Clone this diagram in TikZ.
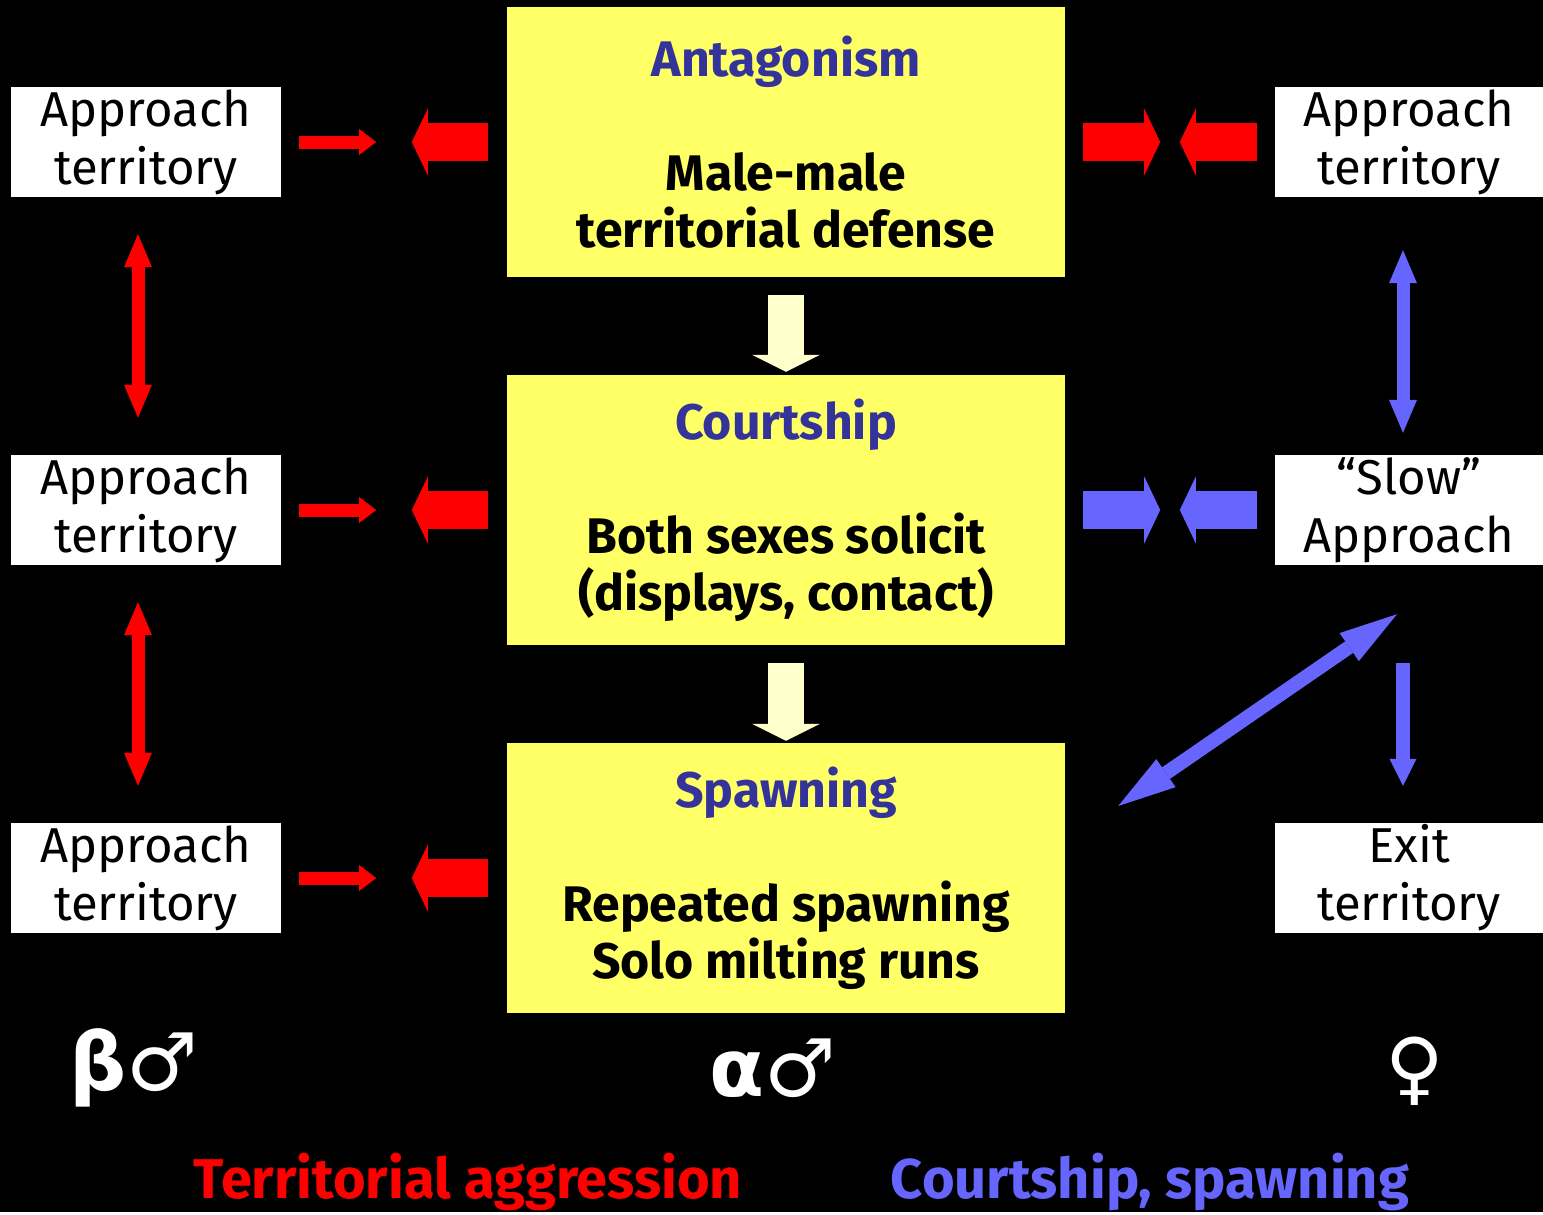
\documentclass[tikz,border=0pt]{standalone}
\usepackage{fontspec}
\setmainfont{Fira Sans}
\newfontfamily\symfont{DejaVu Sans}
\usetikzlibrary{arrows.meta,positioning}
\definecolor{boxyellow}{HTML}{FFFF66}
\definecolor{titleblue}{HTML}{333399}
\definecolor{arrblue}{HTML}{6666FF}
\definecolor{cream}{HTML}{FFFFCC}

\begin{document}
\begin{tikzpicture}[
x=1pt, y=-1pt,
wbox/.style={
	fill=white, text=black, inner sep=0pt,
	minimum width=270pt, minimum height=110pt,
	align=center, font=\fontsize{49}{58}\selectfont
},
ybox/.style={
	fill=boxyellow, text=black, inner sep=0pt,
	minimum width=558pt, minimum height=270pt,
	align=center, font=\bfseries\fontsize{50}{57}\selectfont
},
slim/.style={line width=13pt, -{Triangle[width=26pt,length=17pt,line width=0pt]}},
fat/.style={line width=38pt, -{Triangle[width=67pt,length=16pt,line width=0pt]}},
vdouble/.style={line width=13pt,
	{Triangle[width=28pt,length=33pt,line width=0pt]}-{Triangle[width=28pt,length=33pt,line width=0pt]}},
vdown/.style={line width=14pt, -{Triangle[width=27pt,length=27pt,line width=0pt]}},
diag/.style={line width=14pt,
	{Triangle[width=34pt,length=58pt,line width=0pt]}-{Triangle[width=34pt,length=58pt,line width=0pt]}},
cdown/.style={line width=36pt, cream, -{Triangle[width=68pt,length=17pt,line width=0pt]}},
sym/.style={text=white, font=\symfont\fontsize{80}{80}\selectfont},
legend/.style={font=\bfseries\fontsize{56}{56}\selectfont}
]
\fill[black] (0,0) rectangle (1543,1212);

\node[ybox] (A) at (786,142) {\textcolor{titleblue}{Antagonism}\\[57pt]Male-male\\territorial defense};
\node[ybox] (C) at (786,510) {\textcolor{titleblue}{Courtship}\\[57pt]Both sexes solicit\\(displays, contact)};
\node[ybox] (S) at (786,878) {\textcolor{titleblue}{Spawning}\\[57pt]Repeated spawning\\Solo milting runs};

\foreach \i/\y in {1/142,2/510,3/878}
	\node[wbox] (L\i) at (146,\y) {Approach\\territory};
\node[wbox, minimum width=268pt] (R1) at (1409,142) {Approach\\territory};
\node[wbox, minimum width=268pt] (R2) at (1409,510) {“Slow”\\Approach};
\node[wbox, minimum width=268pt] (R3) at (1409,878) {Exit\\territory};

\foreach \i/\b in {1/A,2/C,3/S}
{
	\draw[slim,red] ([xshift=18pt]L\i.east) -- ([xshift=95pt]L\i.east);
	\draw[fat,red] ([xshift=-19pt]\b.west) -- ([xshift=-95pt]\b.west);
}
\foreach \i/\b/\c in {1/A/red,2/C/arrblue}
{
	\draw[fat,\c] ([xshift=18pt]\b.east) -- ([xshift=95pt]\b.east);
	\draw[fat,\c] ([xshift=-18pt]R\i.west) -- ([xshift=-95pt]R\i.west);
}
\foreach \i/\j in {1/2,2/3}
	\draw[vdouble,red] ([shift={(-8pt,-37pt)}]L\i.south) -- ([shift={(-8pt,37pt)}]L\j.north);

\draw[vdouble,arrblue] ([shift={(-6pt,-53pt)}]R1.south) -- ([shift={(-6pt,22pt)}]R2.north);
\draw[vdown,arrblue] ([shift={(-6pt,-98pt)}]R2.south) -- ([shift={(-6pt,37pt)}]R3.north);
\draw[diag,arrblue] ([shift={(53pt,72pt)}]S.east) -- ([shift={(-12pt,-49pt)}]R2.south);

\draw[cdown] ([yshift=-18pt]A.south) -- ([yshift=3pt]C.north);
\draw[cdown] ([yshift=-18pt]C.south) -- ([yshift=2pt]S.north);

\node[sym] (beta) at (134,1068) {{\bfseries β}♂};
\node[sym] (alpha) at (773,1068) {{\bfseries α}♂};
\node[sym] (fem) at (1415,1071) {♀};
\node[legend, text=red] (agg) at (468,1182) {Territorial aggression};
\node[legend, text=arrblue] (court) at (1150,1182) {Courtship, spawning};
\end{tikzpicture}
\end{document}
